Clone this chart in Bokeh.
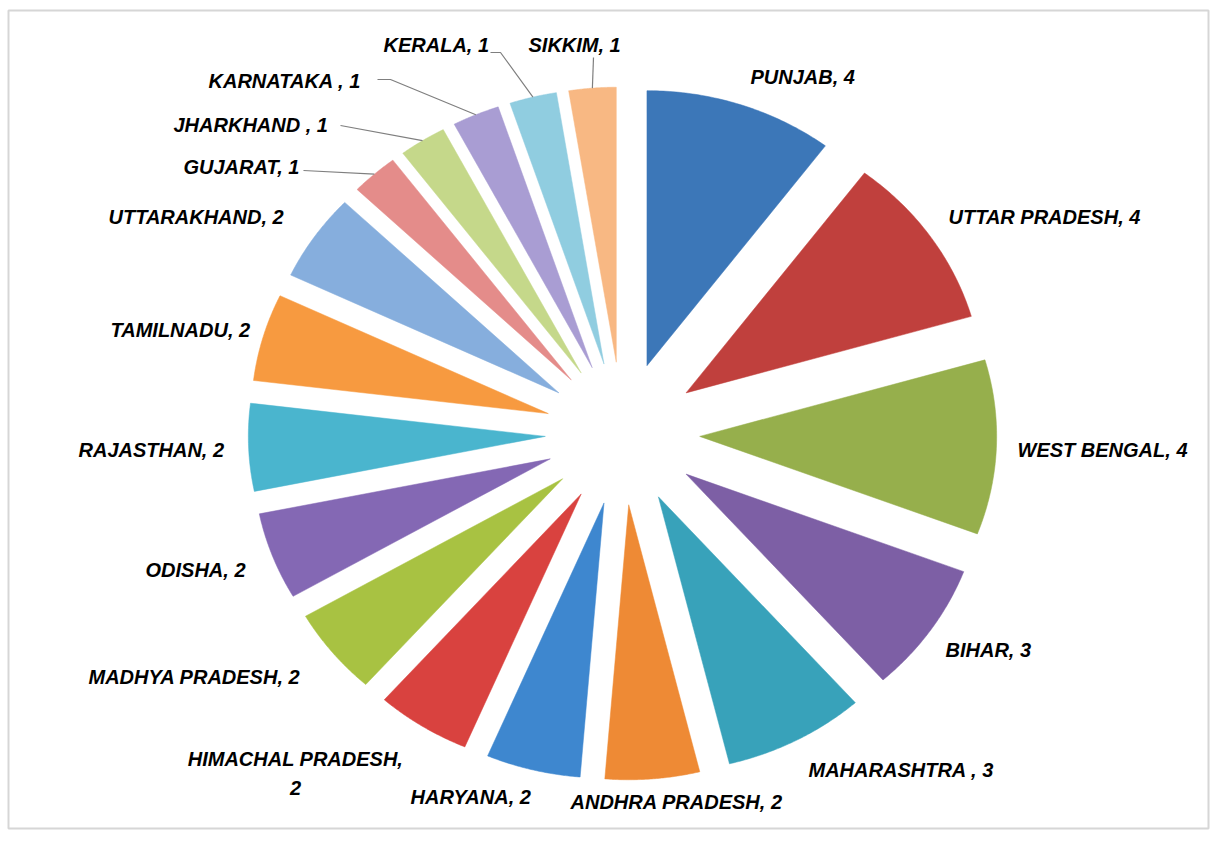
import numpy as np
from bokeh.plotting import figure
from bokeh.models import Range1d, ColumnDataSource
from bokeh.core.properties import value
from bokeh.embed import file_html
from bokeh.resources import INLINE

# ---- data ----
states = ["PUNJAB", "UTTAR PRADESH", "WEST BENGAL", "BIHAR", "MAHARASHTRA",
          "ANDHRA PRADESH", "HARYANA", "HIMACHAL PRADESH", "MADHYA PRADESH",
          "ODISHA", "RAJASTHAN", "TAMILNADU", "UTTARAKHAND", "GUJARAT",
          "JHARKHAND", "KARNATAKA", "KERALA", "SIKKIM"]
counts = [4, 4, 4, 3, 3, 2, 2, 2, 2, 2, 2, 2, 2, 1, 1, 1, 1, 1]
label_texts = ["PUNJAB, 4", "UTTAR PRADESH, 4", "WEST BENGAL, 4", "BIHAR, 3",
               "MAHARASHTRA , 3", "ANDHRA PRADESH, 2", "HARYANA, 2",
               "HIMACHAL PRADESH,\n2", "MADHYA PRADESH, 2", "ODISHA, 2",
               "RAJASTHAN, 2", "TAMILNADU, 2", "UTTARAKHAND, 2", "GUJARAT, 1",
               "JHARKHAND , 1", "KARNATAKA , 1", "KERALA, 1", "SIKKIM, 1"]

# ---- style / layout ----
colors = ["#3C77B8", "#C0403D", "#96AF4C", "#7D5FA5", "#38A2BA", "#EE8A35",
          "#3E87CF", "#D9423F", "#A8C242", "#8468B4", "#4AB5CE", "#F79A40",
          "#86AEDD", "#E48C8A", "#C5D88A", "#A99DD3", "#90CDE0", "#F8B883"]

W, H = 1210, 830
CX, CY = 622, 433                  # pie centre (px)
SX, SY = 297, 275                  # radius in x / y (px)
EXPLODE = 0.26                     # fraction of radius

# label anchors (px) and alignment
label_pos = [(750, 76, "left"), (948, 216, "left"), (1017, 449, "left"),
             (945, 649, "left"), (808, 769, "left"), (570, 801, "left"),
             (410, 796, "left"), (295, 773, "center"), (88, 676, "left"),
             (145, 569, "left"), (78, 449, "left"), (110, 329, "left"),
             (108, 216, "left"), (183, 166, "left"), (173, 124, "left"),
             (208, 80, "left"), (383, 44, "left"), (528, 44, "left")]
# leader line start points (px)
leader_start = {13: [(303, 170)], 14: [(340, 125)], 15: [(377, 79), (390, 79)],
                16: [(490, 52), (500, 52)], 17: [(593, 57)]}

p = figure(width=W, height=H, output_backend="svg", toolbar_location=None,
           x_range=Range1d(0, W), y_range=Range1d(H, 0), min_border=0)
p.axis.visible = False
p.grid.visible = False
p.outline_line_color = None
p.background_fill_color = "white"

# frame of the picture
p.quad(left=[8], right=[1208], top=[10], bottom=[828], fill_color=None,
       line_color="#D6D6D6", line_width=2)

total = float(sum(counts))
cum = np.concatenate([[0], np.cumsum(counts)])
xs, ys = [], []
mids = []
for i, c in enumerate(counts):
    a0 = cum[i] / total * 2 * np.pi
    a1 = cum[i + 1] / total * 2 * np.pi
    am = 0.5 * (a0 + a1)
    mids.append(am)
    ox = CX + EXPLODE * SX * np.sin(am)
    oy = CY - EXPLODE * SY * np.cos(am)
    t = np.linspace(a0, a1, 60)
    px = np.concatenate([[ox], ox + SX * np.sin(t), [ox]])
    py = np.concatenate([[oy], oy - SY * np.cos(t), [oy]])
    xs.append(list(px))
    ys.append(list(py))

src = ColumnDataSource(dict(xs=xs, ys=ys, color=colors, state=states))
p.patches("xs", "ys", source=src, fill_color="color", line_color="color",
          line_width=0.5)

# leader lines
for i, pts in leader_start.items():
    am = mids[i]
    ex = CX + (EXPLODE + 1.0) * SX * np.sin(am)
    ey = CY - (EXPLODE + 1.0) * SY * np.cos(am)
    lx = [q[0] for q in pts] + [ex]
    ly = [q[1] for q in pts] + [ey]
    p.line(lx, ly, line_color="#7F7F7F", line_width=1.2)

for txt, (lx, ly, al) in zip(label_texts, label_pos):
    p.text(x=[lx], y=[ly], text=[txt], text_align=al,
           text_baseline="middle", text_font=value("Liberation Sans"),
           text_font_style="bold italic", text_font_size="20px",
           text_color="black", text_line_height=1.35)

open("out.html", "w").write(file_html(p, INLINE))
